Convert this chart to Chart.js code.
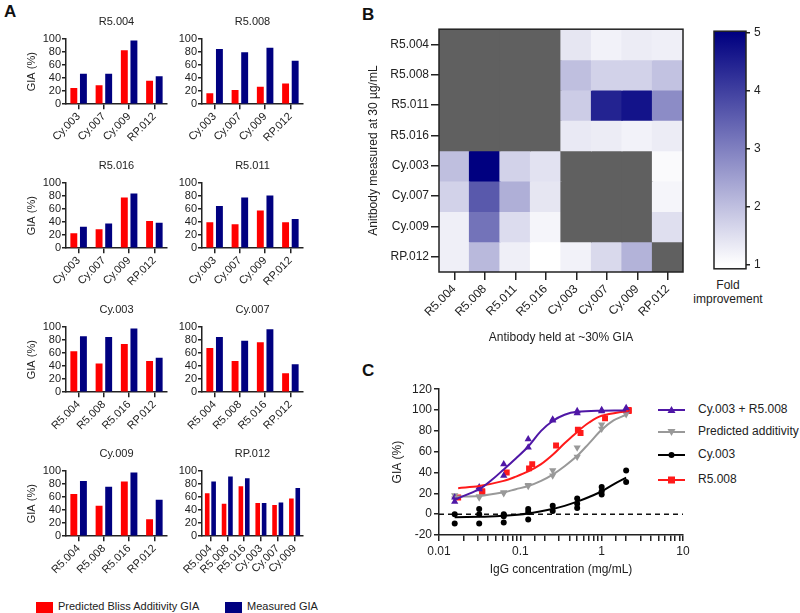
<!DOCTYPE html>
<html>
<head>
<meta charset="utf-8">
<script src="https://cdn.jsdelivr.net/npm/chart.js@4.4.1/dist/chart.umd.min.js"></script>
<style>
    body { margin: 0; background: #fff; font-family: "Liberation Sans", Arial, sans-serif; color: #222; }
    #page { position: relative; width: 800px; height: 613px; overflow: hidden; }
    canvas { position: absolute; }
    .panel-label { position: absolute; font-weight: bold; font-size: 17px; line-height: 17px; color: #111; }
    .legend-a { position: absolute; font-size: 11px; line-height: 12px; white-space: nowrap; }
    .legend-a span { display: inline-block; width: 17px; height: 11px; vertical-align: middle; margin-right: 5px; }
    .legend-c { position: absolute; left: 658px; font-size: 12px; line-height: 14px; white-space: nowrap; }
    .legend-c svg { vertical-align: middle; margin-right: 13px; }
    .bar-title { position: absolute; left: 690px; width: 76px; top: 278px; text-align: center; font-size: 12px; line-height: 14px; }
</style>
</head>
<body>
<div id="page">
    <div class="panel-label" style="left:4px; top:3px;">A</div>
    <div class="panel-label" style="left:362px; top:6px;">B</div>
    <div class="panel-label" style="left:362px; top:362px;">C</div>

    <div class="legend-a" style="left:36px; top:600px;"><span style="background:#ff0000"></span>Predicted Bliss Additivity GIA</div>
    <div class="legend-a" style="left:225px; top:600px;"><span style="background:#000080"></span>Measured GIA</div>

    <div class="bar-title">Fold<br>improvement</div>

    <div class="legend-c" style="top:402px;"><svg width="27" height="10"><line x1="0" y1="5" x2="27" y2="5" stroke="#4f17a6" stroke-width="2"/><polygon points="13.5,1 17.5,8 9.5,8" fill="#4f17a6"/></svg>Cy.003 + R5.008</div>
    <div class="legend-c" style="top:424px;"><svg width="27" height="10"><line x1="0" y1="5" x2="27" y2="5" stroke="#999" stroke-width="2"/><polygon points="13.5,9 17.5,2 9.5,2" fill="#999"/></svg>Predicted additivity</div>
    <div class="legend-c" style="top:447px;"><svg width="27" height="10"><line x1="0" y1="5" x2="27" y2="5" stroke="#000" stroke-width="2"/><circle cx="13.5" cy="5" r="3" fill="#000"/></svg>Cy.003</div>
    <div class="legend-c" style="top:472px;"><svg width="27" height="10"><line x1="0" y1="5" x2="27" y2="5" stroke="#ff1a1a" stroke-width="2"/><rect x="10" y="1.5" width="7" height="7" fill="#ff1a1a"/></svg>R5.008</div>
</div>

<script>
// ---- Panel A: GIA bar charts ----
const partnersR5 = ["Cy.003", "Cy.007", "Cy.009", "RP.012"];
const partnersCy = ["R5.004", "R5.008", "R5.016", "RP.012"];
const partnersRP = ["R5.004", "R5.008", "R5.016", "Cy.003", "Cy.007", "Cy.009"];

const r5004Predicted = [25, 29, 83, 36];
const r5004Measured = [47, 47, 98, 43];
const r5008Predicted = [17, 22, 27, 32];
const r5008Measured = [85, 80, 87, 67];
const r5016Predicted = [23, 29, 78, 42];
const r5016Measured = [33, 38, 84, 39];
const r5011Predicted = [40, 37, 58, 40];
const r5011Measured = [65, 78, 81, 45];
const cy003Predicted = [63, 44, 74, 48];
const cy003Measured = [86, 85, 98, 53];
const cy007Predicted = [68, 48, 77, 29];
const cy007Measured = [85, 79, 97, 43];
const cy009Predicted = [65, 47, 84, 26];
const cy009Measured = [85, 76, 98, 56];
const rp012Predicted = [66, 50, 77, 51, 48, 58];
const rp012Measured = [84, 92, 89, 51, 52, 74];

// ---- Panel B: fold improvement heatmap (rows: measured at 30 µg/mL, cols: held at ~30% GIA) ----
const heatAntibodies = ["R5.004", "R5.008", "R5.011", "R5.016", "Cy.003", "Cy.007", "Cy.009", "RP.012"];
const foldImprovement = [
    [null, null, null, null, 1.4, 1.2, 1.3, 1.25],
    [null, null, null, null, 2.0, 1.7, 1.7, 1.95],
    [null, null, null, null, 1.8, 4.45, 4.7, 2.8],
    [null, null, null, null, 1.35, 1.3, 1.2, 1.3],
    [2.0, 5.0, 1.7, 1.45, null, null, null, 1.08],
    [1.7, 3.6, 2.25, 1.4, null, null, null, 1.15],
    [1.25, 3.2, 1.55, 1.15, null, null, null, 1.5],
    [1.25, 2.1, 1.25, 1.0, 1.2, 1.6, 2.2, null],
];
const foldTicks = [1, 2, 3, 4, 5];

// ---- Panel C: dose response ----
const comboConc = [0.0156, 0.0156, 0.0312, 0.0312, 0.0625, 0.0625, 0.125, 0.125, 0.25, 0.25, 0.5, 0.5, 1, 1, 2, 2];
const comboGia = [12, 16, 26, 24, 48, 37, 72, 64, 90, 91, 99, 97, 99, 100, 102, 100];
const comboFitConc = [0.0156, 0.0312, 0.044, 0.0625, 0.088, 0.125, 0.18, 0.25, 0.35, 0.5, 1, 2];
const comboFitGia = [14, 24, 32.5, 43, 53.5, 65, 80, 89.5, 95.5, 98.3, 99.4, 99.5];

const additiveConc = [0.0156, 0.0156, 0.0312, 0.0312, 0.0625, 0.0625, 0.125, 0.125, 0.25, 0.25, 0.5, 0.5, 1, 1, 2, 2];
const additiveGia = [18, 15, 17, 16, 21, 20, 28, 27, 37, 42, 55, 64, 82, 86, 96, 97];
const additiveFitConc = [0.0156, 0.0312, 0.0625, 0.088, 0.125, 0.18, 0.25, 0.35, 0.5, 0.7, 1, 1.4, 2];
const additiveFitGia = [17, 17.5, 21, 24, 27, 32, 38, 46, 56, 68, 81, 90, 95.5];

const cy003Conc = [0.0156, 0.0156, 0.0312, 0.0312, 0.0312, 0.0625, 0.0625, 0.0625, 0.125, 0.125, 0.125, 0.25, 0.25, 0.5, 0.5, 0.5, 1, 1, 1, 2, 2];
const cy003Gia = [0, -9, 5, -9, 0, 0, -8, -2, 5, 2, -5, 8, 3, 15, 10, 6, 26, 19, 22, 42, 31];
const cy003FitConc = [0.0156, 0.0312, 0.0625, 0.125, 0.25, 0.35, 0.5, 0.7, 1, 1.4, 2];
const cy003FitGia = [-3, -2.5, -1.6, 0.6, 5, 8, 12, 16.5, 22, 28.6, 35];

const r5008Conc = [0.0172, 0.034, 0.034, 0.068, 0.128, 0.14, 0.275, 0.51, 0.55, 1.1, 2.15, 2.15];
const r5008Gia = [16, 22, 21, 40, 44, 48, 66, 81, 78, 92, 100, 99];
const r5008FitConc = [0.0172, 0.0312, 0.0625, 0.088, 0.125, 0.18, 0.25, 0.35, 0.5, 0.7, 1, 2.15];
const r5008FitGia = [25, 27, 32, 36, 41, 48, 57, 68, 79, 88, 94.5, 99.4];

const colors = {
    predicted: "#ff0000",
    measured: "#000080",
    excluded: "#606060",
    combo: "#4f17a6",
    additive: "#999999",
    cy003: "#000000",
    r5008: "#ff1a1a",
    axis: "#222222",
};

Chart.defaults.font.family = '"Liberation Sans", Arial, sans-serif';
Chart.defaults.color = colors.axis;
Chart.defaults.animation = false;
Chart.defaults.plugins.legend.display = false;
Chart.defaults.plugins.tooltip.enabled = false;

const page = document.getElementById("page");

function makeCanvas(left, top, width, height) {
    const canvas = document.createElement("canvas");
    canvas.width = width;
    canvas.height = height;
    canvas.style.left = left + "px";
    canvas.style.top = top + "px";
    canvas.style.width = width + "px";
    canvas.style.height = height + "px";
    page.appendChild(canvas);
    return canvas;
}

function toPoints(xs, ys) {
    return xs.map((x, i) => ({ x: x, y: ys[i] }));
}

const framePlugin = {
    id: "frame",
    afterDatasetsDraw(chart) {
        const a = chart.chartArea;
        const ctx = chart.ctx;
        ctx.save();
        ctx.strokeStyle = "#222";
        ctx.lineWidth = 1.5;
        ctx.strokeRect(a.left, a.top, a.right - a.left, a.bottom - a.top);
        ctx.restore();
    },
};

// small bar chart: plot area (plotLeft..plotLeft+101, plotTop..plotTop+65)
function createGiaChart(plotLeft, plotTop, title, labels, predicted, measured, showYTitle) {
    const yWidth = 41, titleH = 24.2, plotH = 65, height = 132;
    const canvas = makeCanvas(plotLeft - yWidth, Math.round(plotTop - titleH), yWidth + 101 + 6, height);
    new Chart(canvas, {
        type: "bar",
        data: {
            labels: labels,
            datasets: [
                { label: "Predicted Bliss Additivity GIA", data: predicted, backgroundColor: colors.predicted, barPercentage: 0.72, categoryPercentage: 0.76 },
                { label: "Measured GIA", data: measured, backgroundColor: colors.measured, barPercentage: 0.72, categoryPercentage: 0.76 },
            ],
        },
        options: {
            responsive: false,
            layout: { padding: { right: 6 } },
            plugins: {
                title: { display: true, fullSize: false, text: title, font: { size: 11, weight: "normal" }, padding: { top: 0, bottom: 11 } },
            },
            scales: {
                x: {
                    grid: { offset: false, drawOnChartArea: false, tickLength: 5, color: colors.axis, lineWidth: 1.5 },
                    border: { color: colors.axis, width: 1.5 },
                    ticks: { minRotation: 45, maxRotation: 45, autoSkip: false, padding: 1, font: { size: 11 } },
                    afterFit: (s) => { s.height = height - titleH - plotH; },
                },
                y: {
                    min: 0,
                    max: 100,
                    ticks: { stepSize: 20, autoSkip: false, padding: 1, font: { size: 11 } },
                    grid: { drawOnChartArea: false, tickLength: 4, color: colors.axis, lineWidth: 1.5 },
                    border: { color: colors.axis, width: 1.5 },
                    title: { display: showYTitle, text: "GIA (%)", font: { size: 11 }, padding: 0 },
                    afterFit: (s) => { s.width = yWidth; },
                },
            },
        },
    });
}

createGiaChart(66, 39, "R5.004", partnersR5, r5004Predicted, r5004Measured, true);
createGiaChart(202, 39, "R5.008", partnersR5, r5008Predicted, r5008Measured, false);
createGiaChart(66, 183, "R5.016", partnersR5, r5016Predicted, r5016Measured, true);
createGiaChart(202, 183, "R5.011", partnersR5, r5011Predicted, r5011Measured, false);
createGiaChart(66, 327, "Cy.003", partnersCy, cy003Predicted, cy003Measured, true);
createGiaChart(202, 327, "Cy.007", partnersCy, cy007Predicted, cy007Measured, false);
createGiaChart(66, 471, "Cy.009", partnersCy, cy009Predicted, cy009Measured, true);
createGiaChart(202, 471, "RP.012", partnersRP, rp012Predicted, rp012Measured, false);

// ---- heatmap ----
function foldColor(v) {
    if (v === null) return colors.excluded;
    const t = Math.min(Math.max((v - 1) / 4, 0), 1);
    const c = Math.round(255 * (1 - t));
    const b = Math.round(255 - 127 * t);
    return "rgb(" + c + "," + c + "," + b + ")";
}

const heatCanvas = makeCanvas(366, 20, 325, 325);
new Chart(heatCanvas, {
    type: "bar",
    data: {
        labels: heatAntibodies,
        datasets: heatAntibodies.map((row, r) => ({
            label: row,
            data: heatAntibodies.map(() => [r, r + 1]),
            backgroundColor: foldImprovement[r].map(foldColor),
            borderWidth: 0,
            inflateAmount: 0.6,
            grouped: false,
            barPercentage: 1,
            categoryPercentage: 1,
        })),
    },
    options: {
        responsive: false,
        layout: { padding: { top: 8, right: 8 } },
        scales: {
            x: {
                grid: { offset: false, drawOnChartArea: false, tickLength: 8, color: colors.axis, lineWidth: 1.5 },
                border: { display: false },
                ticks: { minRotation: 45, maxRotation: 45, autoSkip: false, padding: 2, font: { size: 12 } },
                title: { display: true, text: "Antibody held at ~30% GIA", font: { size: 12 }, padding: 0 },
                afterFit: (s) => { s.height = 73; },
            },
            y: {
                min: 0,
                max: 8,
                reverse: true,
                afterBuildTicks: (s) => { s.ticks = heatAntibodies.map((_, i) => ({ value: i + 0.5 })); },
                ticks: { autoSkip: false, padding: 2, font: { size: 12 }, callback: (v, i) => heatAntibodies[i] },
                grid: { drawOnChartArea: false, tickLength: 8, color: colors.axis, lineWidth: 1.5 },
                border: { display: false },
                title: { display: true, text: "Anitbody measured at 30 µg/mL", font: { size: 12 }, padding: 0 },
                afterFit: (s) => { s.width = 73; },
            },
        },
    },
    plugins: [framePlugin],
});

// colour bar
const barCanvas = makeCanvas(700, 20, 76, 260);
new Chart(barCanvas, {
    type: "bar",
    data: {
        labels: [""],
        datasets: [{
            data: [[0.93, 5.03]],
            barPercentage: 1,
            categoryPercentage: 1,
            backgroundColor: (ctx) => {
                const chart = ctx.chart;
                if (!chart.chartArea) return colors.measured;
                const y = chart.scales.y;
                const g = chart.ctx.createLinearGradient(0, y.getPixelForValue(1), 0, y.getPixelForValue(5));
                g.addColorStop(0, foldColor(1));
                g.addColorStop(0.5, foldColor(3));
                g.addColorStop(1, foldColor(5));
                return g;
            },
        }],
    },
    options: {
        responsive: false,
        layout: { padding: { top: 8, left: 14 } },
        scales: {
            x: {
                grid: { display: false },
                border: { display: false },
                ticks: { display: false },
                afterFit: (s) => { s.height = 8; },
            },
            y: {
                position: "right",
                min: 0.93,
                max: 5.03,
                afterBuildTicks: (s) => { s.ticks = foldTicks.map((v) => ({ value: v })); },
                ticks: { padding: 4, font: { size: 12 } },
                grid: { drawOnChartArea: false, tickLength: 4, color: colors.axis, lineWidth: 1.5 },
                border: { display: false },
                afterFit: (s) => { s.width = 30; },
            },
        },
    },
    plugins: [framePlugin],
});

// ---- panel C ----
function isDecade(v) {
    const l = Math.log10(v);
    return Math.abs(l - Math.round(l)) < 1e-6;
}

const fitLine = { showLine: true, borderWidth: 2, pointRadius: 0, tension: 0.35 };

const doseCanvas = makeCanvas(390, 380, 305, 197);
new Chart(doseCanvas, {
    type: "scatter",
    data: {
        datasets: [
            { ...fitLine, data: toPoints(comboFitConc, comboFitGia), borderColor: colors.combo },
            { ...fitLine, data: toPoints(r5008FitConc, r5008FitGia), borderColor: colors.r5008 },
            { ...fitLine, data: toPoints(additiveFitConc, additiveFitGia), borderColor: colors.additive },
            { ...fitLine, data: toPoints(cy003FitConc, cy003FitGia), borderColor: colors.cy003 },
            { data: toPoints(comboConc, comboGia), pointStyle: "triangle", pointRadius: 4.2, backgroundColor: colors.combo, borderColor: colors.combo, borderWidth: 0 },
            { data: toPoints(additiveConc, additiveGia), pointStyle: "triangle", pointRotation: 180, pointRadius: 4.2, backgroundColor: colors.additive, borderColor: colors.additive, borderWidth: 0 },
            { data: toPoints(cy003Conc, cy003Gia), pointStyle: "circle", pointRadius: 3, backgroundColor: colors.cy003, borderColor: colors.cy003, borderWidth: 0 },
            { data: toPoints(r5008Conc, r5008Gia), pointStyle: "rect", pointRadius: 4.2, backgroundColor: colors.r5008, borderColor: colors.r5008, borderWidth: 0 },
            { data: [{ x: 0.01, y: 0 }, { x: 10, y: 0 }], showLine: true, borderColor: "#111", borderWidth: 1.5, borderDash: [5, 4], pointRadius: 0, order: 10 },
        ],
    },
    options: {
        responsive: false,
        layout: { padding: { top: 8, right: 12 } },
        scales: {
            x: {
                type: "logarithmic",
                min: 0.01,
                max: 10,
                ticks: { autoSkip: false, maxRotation: 0, padding: 3, font: { size: 12 }, callback: (v) => (isDecade(v) ? String(v) : "") },
                grid: { drawOnChartArea: false, tickLength: 6, color: colors.axis, lineWidth: 1.5 },
                border: { color: colors.axis, width: 1.5 },
                title: { display: true, text: "IgG concentration (mg/mL)", font: { size: 12 }, padding: 0 },
                afterFit: (s) => { s.height = 42; },
            },
            y: {
                min: -20,
                max: 120,
                ticks: { stepSize: 20, padding: 2, font: { size: 12 } },
                grid: { drawOnChartArea: false, tickLength: 5, color: colors.axis, lineWidth: 1.5 },
                border: { color: colors.axis, width: 1.5 },
                title: { display: true, text: "GIA (%)", font: { size: 12 }, padding: 0 },
                afterFit: (s) => { s.width = 49; },
            },
        },
    },
});
</script>
</body>
</html>
